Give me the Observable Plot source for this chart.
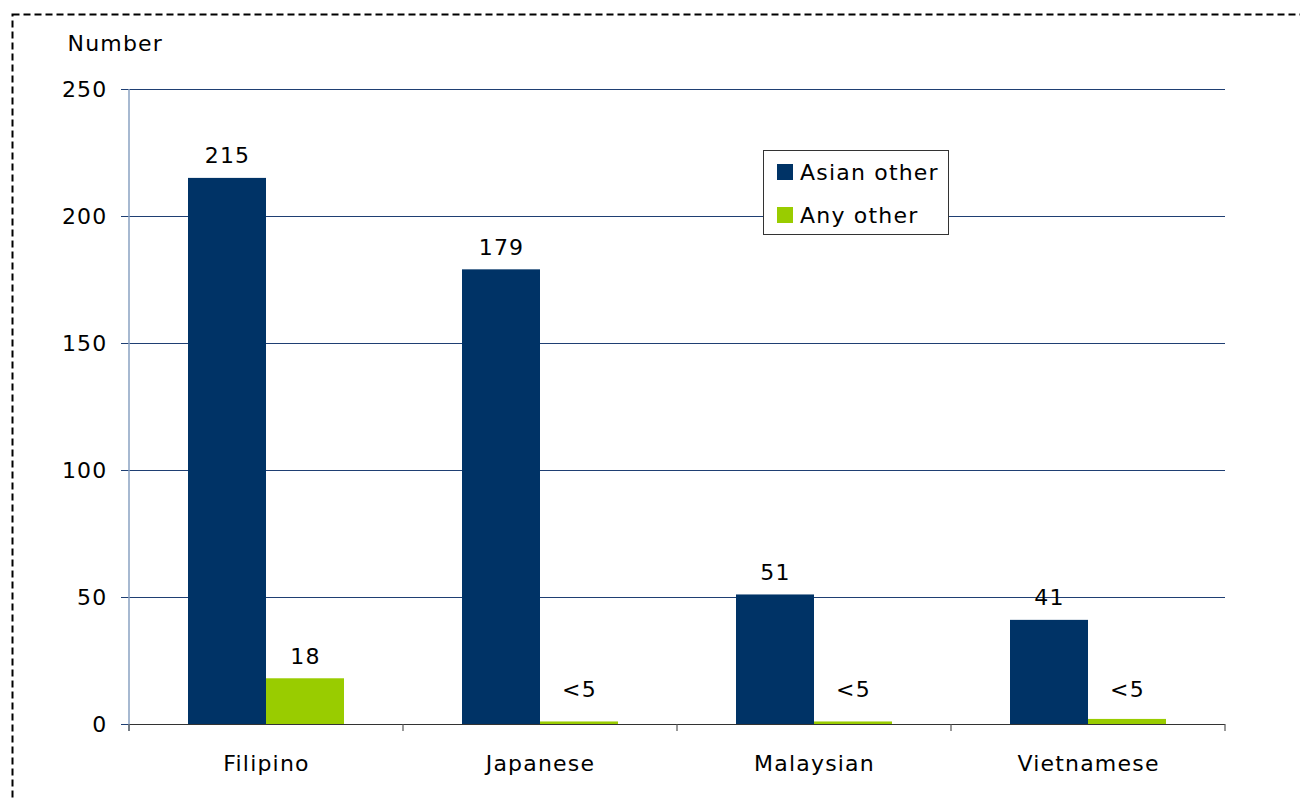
<!DOCTYPE html>
<html>
<head>
<meta charset="utf-8">
<script src="https://cdn.jsdelivr.net/npm/d3@7"></script>
<script src="https://cdn.jsdelivr.net/npm/@observablehq/plot@0.6"></script>
<style>
  html, body { margin: 0; padding: 0; background: #fff; }
  #wrap { position: relative; width: 1300px; height: 798px; overflow: hidden; background: #fff; }
  #wrap svg.plot { position: absolute; left: 0; top: 0; }
  #border { position: absolute; left: 0; top: 0; pointer-events: none; }
  #legend {
    position: absolute; left: 763px; top: 150px; width: 184px; height: 83px;
    border: 1.5px solid #333; background: #fff;
    font-family: "DejaVu Sans", sans-serif; font-size: 22px; letter-spacing: 1.2px; color: #000;
  }
  #legend .row { position: absolute; left: 13px; height: 26px; display: flex; align-items: center; }
  #legend .sw { width: 16px; height: 16px; margin-right: 7px; }
</style>
</head>
<body>
<div id="wrap"></div>
<script>
// ---- data ----
const categories = ["Filipino", "Japanese", "Malaysian", "Vietnamese"];
const series = ["Asian other", "Any other"];
const asianOther = [215, 179, 51, 41];
const anyOther = [18, 1, 1, 2];
const asianLabels = ["215", "179", "51", "41"];
const anyLabels = ["18", "<5", "<5", "<5"];
const yTicks = [0, 50, 100, 150, 200, 250];
const colors = ["#003366", "#99cc00"];
const yLabel = "Number";

const rows = [];
categories.forEach((c, i) => {
  rows.push({category: c, series: series[0], value: asianOther[i], label: asianLabels[i]});
  rows.push({category: c, series: series[1], value: anyOther[i], label: anyLabels[i]});
});

const gridColor = "#1f3f73";

const chart = Plot.plot({
  width: 1300,
  height: 798,
  marginLeft: 129,
  marginRight: 75,
  marginTop: 89,
  marginBottom: 74,
  style: {fontFamily: "DejaVu Sans, sans-serif", fontSize: "22px", letterSpacing: "1.2px", color: "#000", background: "transparent", overflow: "visible"},
  fx: {domain: categories, padding: 0, label: null},
  x: {domain: series, paddingInner: 0, paddingOuter: 0.745, axis: null},
  y: {domain: [0, 250], ticks: yTicks, label: null},
  color: {domain: series, range: colors},
  marks: [
    Plot.gridY(yTicks.filter(t => t > 0), {stroke: gridColor, strokeOpacity: 1, strokeWidth: 1}),
    Plot.axisY(yTicks, {tickSize: 8, tickPadding: 14, stroke: gridColor, fill: "#000", label: null}),
    Plot.axisFx({anchor: "bottom", tickSize: 0, tickPadding: 31, label: null, fill: "#000"}),
    Plot.barY(rows, {fx: "category", x: "series", y: "value", fill: "series"}),
    Plot.ruleY([0], {stroke: "#333", strokeWidth: 1.2}),
    Plot.text(rows, {fx: "category", x: "series", y: d => d.label === "<5" ? 5 : d.value, text: "label", dy: -22, fill: "#000"}),
    Plot.text([{category: categories[0], t: yLabel}], {fx: "category", text: "t", frameAnchor: "top-left", textAnchor: "start", lineAnchor: "middle", dx: -62, dy: -46, fill: "#000"})
  ]
});
chart.classList.add("plot");
document.getElementById("wrap").appendChild(chart);

// axis line and category boundary ticks from the library's scales
const fx = chart.scale("fx");
const y = chart.scale("y");
const svg = d3.select(chart);
const y0 = y.apply(0), yTop = y.apply(250);
const x0 = fx.range[0];
svg.append("line")
  .attr("x1", x0).attr("x2", x0).attr("y1", yTop).attr("y2", y0 + 7)
  .attr("stroke", "#8aa2c2").attr("stroke-width", 1.5);
const bounds = categories.map(c => fx.apply(c)).concat([fx.apply(categories[categories.length - 1]) + fx.bandwidth]);
bounds.forEach(b => {
  svg.append("line")
    .attr("x1", b).attr("x2", b).attr("y1", y0).attr("y2", y0 + 7)
    .attr("stroke", "#555").attr("stroke-width", 1.2);
});

// dashed outer border
const border = d3.select("#wrap").append("svg")
  .attr("id", "border").attr("width", 1300).attr("height", 798);
border.append("rect")
  .attr("x", 12.5).attr("y", 14.5).attr("width", 1400).attr("height", 900)
  .attr("fill", "none").attr("stroke", "#000").attr("stroke-width", 2)
  .attr("stroke-dasharray", "7,4");

// legend
const legend = d3.select("#wrap").append("div").attr("id", "legend");
series.forEach((s, i) => {
  const row = legend.append("div").attr("class", "row").style("top", (8 + i * 43) + "px");
  row.append("div").attr("class", "sw").style("background", colors[i]);
  row.append("span").text(s);
});
</script>
</body>
</html>
